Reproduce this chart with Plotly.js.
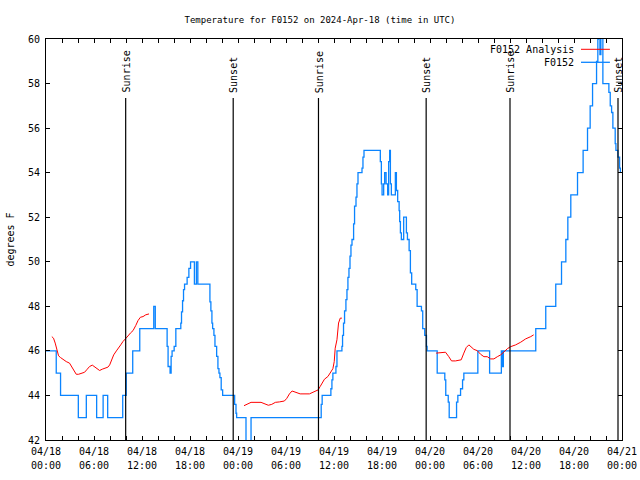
<!DOCTYPE html>
<html>
<head>
<meta charset="utf-8">
<script src="https://cdn.plot.ly/plotly-3.0.1.min.js"></script>
<style>html,body{margin:0;padding:0;background:#fff;}#chart{width:640px;height:480px;}</style>
</head>
<body>
<div id="chart"></div>
<script>
// Hours since 2024-04-18 00:00 UTC
const obsHours = [0.00,1.28,1.82,4.04,5.04,6.33,7.14,7.71,9.59,10.03,10.84,11.72,13.47,13.66,15.14,15.26,15.51,15.64,15.76,16.02,16.23,16.85,16.94,17.07,17.19,17.32,17.64,17.86,18.07,18.55,18.80,18.98,20.49,20.61,20.74,20.83,20.99,21.12,21.33,21.49,21.62,21.74,21.90,22.08,23.58,23.75,23.83,25.00,25.63,34.40,34.52,35.61,35.74,35.86,36.24,36.37,36.99,37.07,37.19,37.32,37.49,37.62,37.74,37.87,38.00,38.12,38.25,38.45,38.57,38.75,38.87,39.00,39.50,39.62,39.75,41.79,41.92,42.01,42.21,42.33,42.51,42.71,42.83,42.96,43.05,43.17,43.67,43.80,43.96,44.14,44.21,44.30,44.42,44.71,45.05,45.18,45.39,45.55,45.71,46.22,46.39,46.93,47.09,47.34,47.56,47.64,48.90,49.85,49.97,50.28,50.40,51.32,51.48,51.82,52.07,52.23,53.98,55.45,56.92,57.02,57.17,61.22,62.47,63.72,64.44,64.98,65.23,65.60,66.44,67.14,67.69,68.02,68.32,68.82,68.98,69.05,69.24,69.36,69.61,70.36,70.53,70.70,70.86,71.15,71.24,71.49,71.70,71.80];
const obsTemps = [46,45,44,43,44,43,44,43,44,45,46,47,48,47,46.2,45.3,45.0,45.75,46.0,46.2,47.0,47.25,47.75,48.25,48.75,49.0,49.3,49.7,50,49,50,49,48.2,47.8,47.25,47.0,46.7,46.2,45.75,45.2,45.0,44.8,44.25,44.0,43.6,43.2,43.0,41.0,43,43.6,44.0,44.3,44.7,45.0,45.3,46.0,46.2,46.7,47.25,47.8,48.3,48.75,49.3,49.7,50.25,50.75,51.0,51.7,52.5,52.9,53.5,54.0,54.2,54.7,55.0,54.5,53.5,53.0,53.5,54.0,53.5,53.0,54.5,55.0,53.5,53.0,54.0,53.2,52.7,52.3,51.8,51.3,51.0,52.0,51.3,51.0,50.5,49.5,49.0,48.75,48.0,47.8,47.0,46.7,46.2,46.0,45.0,44.7,44.0,43.7,43.0,43.7,44.0,44.3,44.7,45.0,46.0,45.0,46.0,45.3,46.0,47.0,48.0,49.0,50.0,51.0,52.0,53.0,54.0,55.0,56.0,57.0,58.0,59.0,60.0,61,59.3,61,58,57.6,57.0,56.7,56.0,55.3,55.0,54.7,54.2,54.0];

const anaHours1 = [0.73,0.94,1.15,1.35,1.57,1.82,2.19,2.53,2.94,3.23,3.53,3.78,4.07,4.41,4.82,5.16,5.45,5.79,6.08,6.37,6.70,7.04,7.33,7.74,7.96,8.25,8.46,8.80,9.09,9.34,9.62,9.96,10.25,10.55,10.88,11.22,11.50,11.80,12.13,12.47,12.88];
const anaTemps1 = [46.64,46.57,46.35,46.04,45.78,45.7,45.6,45.52,45.45,45.27,45.12,44.95,44.95,45.0,45.04,45.18,45.3,45.36,45.27,45.2,45.12,45.18,45.22,45.27,45.37,45.6,45.82,46.0,46.12,46.27,46.42,46.54,46.67,46.8,46.91,47.14,47.36,47.51,47.54,47.62,47.66];
const anaHours2 = [24.75,25.09,25.63,26.88,27.29,27.79,28.22,28.67,29.17,29.80,30.10,30.43,30.76,31.05,31.39,31.77,32.93,33.27,33.65,34.02,34.27,34.52,34.81,35.24,35.56,35.86,36.03,36.15,36.37,36.57,36.78,36.99];
const anaTemps2 = [43.54,43.6,43.69,43.69,43.63,43.56,43.6,43.69,43.71,43.75,43.87,44.07,44.2,44.17,44.1,44.07,44.07,44.13,44.2,44.25,44.4,44.58,44.73,44.85,45.06,45.2,45.52,46.12,46.5,47.25,47.47,47.47];
const anaHours3 = [48.77,49.31,49.94,50.35,50.69,51.19,51.90,52.23,52.53,52.86,53.16,53.48,53.91,54.32,54.74,55.16,55.58,55.99,56.42,56.83,57.24,57.67,58.08,58.71,59.34,59.96,60.59,60.96];
const anaTemps3 = [45.9,45.93,45.94,45.74,45.55,45.55,45.6,45.9,46.15,46.27,46.16,46.07,46.01,45.85,45.74,45.74,45.64,45.64,45.74,45.82,45.95,46.1,46.19,46.27,46.39,46.54,46.64,46.72];

const sunriseHours = [9.96, 34.06, 58.0];
const sunsetHours = [23.4, 47.52, 71.5];

const majorTickHours = [0, 6, 12, 18, 24, 30, 36, 42, 48, 54, 60, 66, 72];
const majorTickDates = ["04/18","04/18","04/18","04/18","04/19","04/19","04/19","04/19","04/20","04/20","04/20","04/20","04/21"];
const majorTickTimes = ["00:00","06:00","12:00","18:00","00:00","06:00","12:00","18:00","00:00","06:00","12:00","18:00","00:00"];
const yTickVals = [42,44,46,48,50,52,54,56,58,60];

const FONT = "DejaVu Sans Mono";
const BLUE = "#0a84ff";
const RED = "#ff0000";

// ticks every 2 hours, labels every 6
const tickVals = [], dateText = [], timeText = [];
for (let h = 0; h <= 72; h += 2) {
  tickVals.push(h);
  const i = majorTickHours.indexOf(h);
  dateText.push(i >= 0 ? majorTickDates[i] : "");
  timeText.push(i >= 0 ? majorTickTimes[i] : "");
}

const anaX = anaHours1.concat([null], anaHours2, [null], anaHours3);
const anaY = anaTemps1.concat([null], anaTemps2, [null], anaTemps3);

const traces = [
  {x: anaX, y: anaY, type: "scatter", mode: "lines", name: "F0152 Analysis", xaxis: "x2", yaxis: "y",
   line: {color: RED, width: 1}, connectgaps: false},
  {x: obsHours, y: obsTemps, type: "scatter", mode: "lines", name: "F0152", xaxis: "x", yaxis: "y",
   line: {color: BLUE, width: 1.3, shape: "hv"}}
];

const shapes = [], annotations = [];
const lineTop = 0.853;
function addSun(hours, label) {
  hours.forEach(h => {
    shapes.push({type: "line", xref: "x", yref: "paper", x0: h, x1: h, y0: 0, y1: lineTop,
                 line: {color: "#000", width: 1.2}});
    annotations.push({xref: "x", yref: "paper", x: h, y: lineTop + 0.008, text: label,
                      textangle: -90, showarrow: false, xanchor: "center", yanchor: "bottom",
                      xshift: 1, font: {family: FONT, size: 10, color: "#000"}});
  });
}
addSun(sunriseHours, "Sunrise");
addSun(sunsetHours, "Sunset");

// key drawn like the reference: text right-justified, sample to the right
const keyNames = ["F0152 Analysis", "F0152"];
const keyColors = [RED, BLUE];
const keyY = [0.9743, 0.9419];
keyNames.forEach((n, i) => {
  annotations.push({xref: "paper", yref: "paper", x: 0.9195, y: keyY[i], text: n, showarrow: false,
                    xanchor: "right", yanchor: "middle", font: {family: FONT, size: 10, color: "#000"}});
  shapes.push({type: "line", xref: "paper", yref: "paper", x0: 0.9288, x1: 0.979, y0: keyY[i], y1: keyY[i],
               line: {color: keyColors[i], width: i === 0 ? 1 : 1.3}});
});

const axisCommon = {
  range: [0, 72], tickmode: "array", tickvals: tickVals,
  showgrid: false, zeroline: false, tickfont: {family: FONT, size: 10, color: "#000"}
};

const layout = {
  width: 640, height: 480,
  margin: {l: 46, r: 18, t: 39, b: 40, pad: 0},
  paper_bgcolor: "#fff", plot_bgcolor: "#fff",
  showlegend: false,
  font: {family: FONT, size: 10, color: "#000"},
  title: {text: "Temperature for F0152 on 2024-Apr-18 (time in UTC)",
          font: {family: FONT, size: 9, color: "#000"},
          x: 0.5, xanchor: "center", xref: "container", y: 0.958, yanchor: "middle", yref: "container"},
  xaxis: Object.assign({}, axisCommon, {ticktext: dateText,
          ticks: "inside", ticklen: 4, tickwidth: 1, tickcolor: "#000",
          showline: true, linecolor: "#000", linewidth: 1, mirror: "ticks", ticklabelstandoff: 2}),
  xaxis2: Object.assign({}, axisCommon, {ticktext: timeText, overlaying: "x", matches: "x",
          anchor: "y", side: "bottom", ticks: "", showline: false, ticklabelstandoff: 18}),
  yaxis: {range: [42, 60], tickmode: "array", tickvals: yTickVals,
          ticks: "inside", ticklen: 4, tickwidth: 1, tickcolor: "#000",
          showline: true, linecolor: "#000", linewidth: 1, mirror: "ticks", ticklabelstandoff: 3,
          showgrid: false, zeroline: false, tickfont: {family: FONT, size: 10, color: "#000"},
          title: {text: "degrees F", font: {family: FONT, size: 10, color: "#000"}, standoff: 11}},
  shapes: shapes,
  annotations: annotations
};

Plotly.newPlot("chart", traces, layout, {staticPlot: true, displayModeBar: false});
</script>
</body>
</html>
